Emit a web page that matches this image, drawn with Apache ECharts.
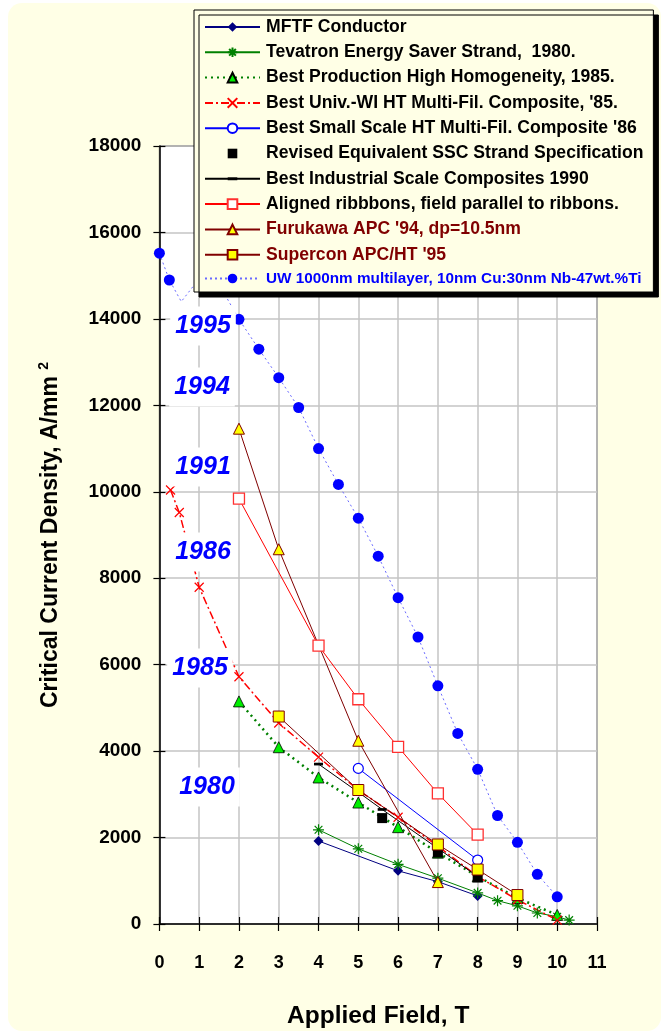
<!DOCTYPE html>
<html>
<head>
<meta charset="utf-8">
<script src="https://cdn.jsdelivr.net/npm/echarts@6/dist/echarts.min.js"></script>
<style>
html,body{margin:0;padding:0;background:#fff;}
#bg{position:absolute;left:8px;top:3px;width:653px;height:1028px;background:#FFFFE6;border-radius:14px;}
#chart{position:absolute;left:0;top:0;width:661px;height:1034px;}
</style>
</head>
<body>
<div id="bg"></div>
<div id="chart"></div>
<script>
// ---- data ----
const xTicks = [0,1,2,3,4,5,6,7,8,9,10,11];
const yTicks = [0,2000,4000,6000,8000,10000,12000,14000,16000,18000];

const seriesNames = [
  'MFTF Conductor',
  'Tevatron Energy Saver Strand,  1980.',
  'Best Production High Homogeneity, 1985.',
  "Best Univ.-WI HT Multi-Fil. Composite, '85.",
  "Best Small Scale HT Multi-Fil. Composite '86",
  'Revised Equivalent SSC Strand Specification',
  'Best Industrial Scale Composites 1990',
  'Aligned ribbbons, field parallel to ribbons.',
  "Furukawa APC '94, dp=10.5nm",
  "Supercon APC/HT '95",
  'UW 1000nm multilayer, 10nm Cu:30nm Nb-47wt.%Ti'
];

const mftf = [[4,1920],[6,1230],[7,980],[8,650]];
const tevatron = [[4,2180],[5,1740],[6,1380],[7,1060],[8,720],[8.5,540],[9,420],[9.5,255],[10,170],[10.3,90]];
const bestProduction = [[2,5150],[3,4090],[4,3390],[5,2810],[6,2240],[7,1650],[8,1100],[9,600],[10,210]];
const univWI = [[0.28,10040],[0.5,9520],[1,7790],[2,5720],[3,4650],[4,3860],[5,3100],[6,2470],[7,1800],[8,1100],[9,560],[10,90]];
const smallScale = [[5,3600],[8,1480]];
const sscSpec = [[5.6,2450],[7,1650],[8,1080]];
const industrial = [[4,3700],[5,3050],[5.6,2650],[7,1750],[8,1100]];
const aligned = [[2,9840],[4,6440],[5,5200],[6,4100],[7,3020],[8,2070]];
const furukawa = [[2,11460],[3,8670],[5,4240],[7,970]];
const supercon = [[3,4800],[5,3100],[7,1840],[8,1260],[9,670]];
const uwMultilayer = [[0,15520],[0.25,14900],{value:[0.55,14400],symbol:'none'},[1.1,15050],[1.5,14800],[2,13990],[2.5,13300],[3,12640],[3.5,11950],[4,11000],[4.5,10170],[5,9390],[5.5,8510],[6,7550],[6.5,6640],[7,5510],[7.5,4410],[8,3580],[8.5,2510],[9,1890],[9.5,1150],[10,630]];

const yearLabels = ['1995','1994','1991','1986','1985','1980'];
const yearLabelPos = [[203,326],[202,387],[203,467],[203,552],[200,668],[207,787]];

// ---- chart ----
const FONT = "'Liberation Sans', Arial, sans-serif";
const asterisk = 'path://M0,5L10,5M5,0L5,10M1.5,1.5L8.5,8.5M8.5,1.5L1.5,8.5';
const cross = 'path://M0,0L10,10M10,0L0,10';
const dash = 'path://M0,0M10,10M0,3.5h10v3h-10z';

const chart = echarts.init(document.getElementById('chart'), null, {renderer:'canvas'});

function lineSeries(name, data, lineColor, lineType, lineWidth, symbol, size, itemStyle) {
  return {
    name, type:'line', data, symbol, symbolSize:size,
    lineStyle:{color:lineColor, type:lineType, width:lineWidth},
    itemStyle, emphasis:{disabled:true}, animation:false
  };
}

const series = [
  lineSeries(seriesNames[0], mftf, '#000080', 'solid', 1, 'diamond', 10, {color:'#000080'}),
  lineSeries(seriesNames[1], tevatron, '#008000', 'solid', 1, asterisk, 11, {color:'none', borderColor:'#008000', borderWidth:1.2}),
  lineSeries(seriesNames[2], bestProduction, '#008000', [2,4], 2.5, 'triangle', 11, {color:'#00ee00', borderColor:'#000', borderWidth:0.8}),
  lineSeries(seriesNames[3], univWI, '#ff0000', [8,3,2,3], 1.5, cross, 9, {color:'none', borderColor:'#ff0000', borderWidth:1.2}),
  lineSeries(seriesNames[4], smallScale, '#0000ff', 'solid', 1, 'circle', 10, {color:'#fff', borderColor:'#0000ff', borderWidth:1.2}),
  lineSeries(seriesNames[5], sscSpec, 'rgba(0,0,0,0)', 'solid', 0, 'rect', 10, {color:'#000'}),
  lineSeries(seriesNames[6], industrial, '#000000', 'solid', 1, dash, 9, {color:'#000'}),
  lineSeries(seriesNames[7], aligned, '#ff0000', 'solid', 1, 'rect', 11, {color:'#fff', borderColor:'#ff3030', borderWidth:1.3}),
  lineSeries(seriesNames[8], furukawa, '#800000', 'solid', 1, 'triangle', 11, {color:'#ffff00', borderColor:'#800000', borderWidth:1}),
  lineSeries(seriesNames[9], supercon, '#800000', 'solid', 1, 'rect', 11, {color:'#ffff00', borderColor:'#800000', borderWidth:1}),
  lineSeries(seriesNames[10], uwMultilayer, '#6a6aff', [2,3], 1, 'circle', 11, {color:'#0000ff'})
];
series.forEach(s => { s.symbolKeepAspect = true; });

const legendData = seriesNames.map((n, i) => {
  const o = {name:n};
  if (i === 8 || i === 9) o.textStyle = {color:'#800000'};
  if (i === 10) o.textStyle = {color:'#0000ff', fontSize:15.3};
  return o;
});

const graphics = yearLabels.map((t, i) => ({
  type:'text', z:50, x:yearLabelPos[i][0], y:yearLabelPos[i][1],
  style:{text:t, fill:'#0000ff', font:"italic bold 25px 'Liberation Sans', Arial, sans-serif",
         align:'center', verticalAlign:'middle', backgroundColor:'#fff', padding:[7,5]}
}));

const axisLabelX = {fontFamily:FONT, fontWeight:'bold', fontSize:18, color:'#000', margin:30};
const axisLabelY = {fontFamily:FONT, fontWeight:'bold', fontSize:19, color:'#000', margin:18, formatter:v => String(v)};

chart.setOption({
  backgroundColor:'transparent',
  animation:false,
  grid:{left:159.4, right:64, top:146, bottom:105, show:true, backgroundColor:'#fff', borderColor:'#000', borderWidth:1},
  xAxis:[
    {type:'value', min:xTicks[0], max:xTicks[xTicks.length-1], interval:1,
     axisLine:{show:true, onZero:false, lineStyle:{color:'#000', width:1.5}},
     axisTick:{show:true, inside:false, length:7, lineStyle:{color:'#000', width:1.2}},
     axisLabel:axisLabelX,
     splitLine:{show:true, lineStyle:{color:'#c4c4c4', width:1.5}},
     name:'Applied Field, T', nameLocation:'middle', nameGap:80,
     nameTextStyle:{fontFamily:FONT, fontWeight:'bold', fontSize:24.5, color:'#000'}},
    {type:'value', min:xTicks[0], max:xTicks[xTicks.length-1], interval:1, position:'bottom',
     axisLine:{show:false}, axisTick:{show:true, inside:true, length:7, lineStyle:{color:'#000', width:1.2}},
     axisLabel:{show:false}, splitLine:{show:false}}
  ],
  yAxis:[
    {type:'value', min:yTicks[0], max:yTicks[yTicks.length-1], interval:2000,
     axisLine:{show:true, onZero:false, lineStyle:{color:'#000', width:1.5}},
     axisTick:{show:true, inside:false, length:6, lineStyle:{color:'#000', width:1.2}},
     axisLabel:axisLabelY,
     splitLine:{show:true, lineStyle:{color:'#c4c4c4', width:1.5}},
     name:'Critical Current Density, A/mm {sup|2}', nameLocation:'middle', nameGap:96, nameRotate:90,
     nameTextStyle:{fontFamily:FONT, fontWeight:'bold', fontSize:23, color:'#000',
       rich:{sup:{fontFamily:FONT, fontWeight:'bold', fontSize:14, color:'#000', verticalAlign:'top', padding:[0,0,12,0]}}}},
    {type:'value', min:yTicks[0], max:yTicks[yTicks.length-1], interval:2000, position:'left',
     axisLine:{show:false}, axisTick:{show:true, inside:true, length:6, lineStyle:{color:'#000', width:1.2}},
     axisLabel:{show:false}, splitLine:{show:false}}
  ],
  legend:{
    orient:'vertical', left:194, top:10, padding:[8,10,6,10],
    itemWidth:55, itemHeight:12, itemGap:7.3,
    backgroundColor:'#FFFFE6', borderColor:'#000', borderWidth:1,
    shadowColor:'#000', shadowBlur:0, shadowOffsetX:5, shadowOffsetY:5,
    textStyle:{fontFamily:FONT, fontWeight:'bold', fontSize:17.6, color:'#000', padding:[0,0,0,1]},
    selectedMode:false,
    data:legendData
  },
  graphic:graphics,
  series
});
</script>
</body>
</html>
